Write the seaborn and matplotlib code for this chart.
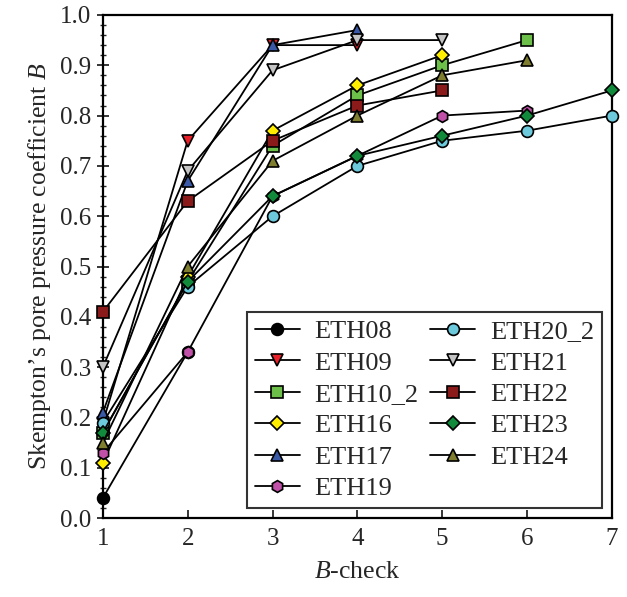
import numpy as np
import pandas as pd
import matplotlib
matplotlib.use("Agg")
import matplotlib.pyplot as plt
import seaborn as sns

# B-check values (one list per sample)
eth08 = [0.04, 0.33]
eth09 = [0.19, 0.75, 0.94, 0.94]
eth10_2 = [0.17, 0.47, 0.74, 0.84, 0.90, 0.95]
eth16 = [0.11, 0.48, 0.77, 0.86, 0.92]
eth17 = [0.21, 0.67, 0.94, 0.97]
eth19 = [0.13, 0.33, 0.64, 0.72, 0.80, 0.81]
eth20_2 = [0.19, 0.46, 0.60, 0.70, 0.75, 0.77, 0.80]
eth21 = [0.30, 0.69, 0.89, 0.95, 0.95]
eth22 = [0.41, 0.63, 0.75, 0.82, 0.85]
eth23 = [0.17, 0.47, 0.64, 0.72, 0.76, 0.80, 0.85]
eth24 = [0.15, 0.50, 0.71, 0.80, 0.88, 0.91]

names = ["ETH08", "ETH09", "ETH10_2", "ETH16", "ETH17", "ETH19",
         "ETH20_2", "ETH21", "ETH22", "ETH23", "ETH24"]
series = [eth08, eth09, eth10_2, eth16, eth17, eth19,
          eth20_2, eth21, eth22, eth23, eth24]
markers = ["o", "v", "s", "D", "^", "h", "o", "v", "s", "D", "^"]
colors = ["#000000", "#e8202a", "#6cc04a", "#ffee00", "#3a5aa8", "#c050a8",
          "#6ccadc", "#c4c4c4", "#8b1a1a", "#128a3c", "#7f7d2e"]

sns.set_style("ticks")
plt.rcParams["font.family"] = ["Liberation Serif", "DejaVu Serif"]
plt.rcParams["mathtext.fontset"] = "custom"
plt.rcParams["mathtext.rm"] = "Liberation Serif"
plt.rcParams["mathtext.it"] = "Liberation Serif:italic"

fig = plt.figure(figsize=(6.27, 5.97), dpi=100)
ax = fig.add_axes([0.164, 0.132, 0.812, 0.843])

for name, vals, m, c in zip(names, series, markers, colors):
    df = pd.DataFrame({"check": np.arange(1, len(vals) + 1), "B": vals})
    ms = 7.5 if m == "D" else 8.5
    sns.lineplot(data=df, x="check", y="B", ax=ax, color="black", lw=1.3,
                 marker=m, markersize=ms, markerfacecolor=c, clip_on=False,
                 markeredgecolor="black", markeredgewidth=1.2, label=name,
                 zorder=3)

ax.set_xlim(1, 7)
ax.set_ylim(0, 1.0)
ax.set_xticks(range(1, 8))
ax.set_yticks(np.arange(0, 1.01, 0.1))
ax.set_yticks(np.arange(0, 1.001, 0.02), minor=True)
ax.set_yticklabels([f"{v:.1f}" for v in np.arange(0, 1.01, 0.1)])

ax.tick_params(axis="x", direction="in", length=6, width=1.3, labelsize=18, pad=7)
ax.tick_params(axis="y", which="major", direction="inout", length=9, width=1.3,
               labelsize=18, pad=4)
ax.tick_params(axis="y", which="minor", direction="inout", length=5, width=1.0)
for sp in ax.spines.values():
    sp.set_linewidth(1.6)
    sp.set_color("black")

ax.set_xlabel("$B$-check", fontsize=18.5, labelpad=8)
ax.set_ylabel("Skempton’s pore pressure coefficient $B$", fontsize=18.5,
              labelpad=5)

leg = ax.legend(ncol=2, loc="lower right", bbox_to_anchor=(0.98, 0.02),
                borderaxespad=0, fontsize=19, frameon=True, fancybox=False,
                edgecolor="black", handlelength=1.7, handletextpad=0.55,
                labelspacing=0.3, columnspacing=0.45, borderpad=0.3)
leg.get_frame().set_linewidth(1.5)

fig.savefig("out.png", dpi=100)
